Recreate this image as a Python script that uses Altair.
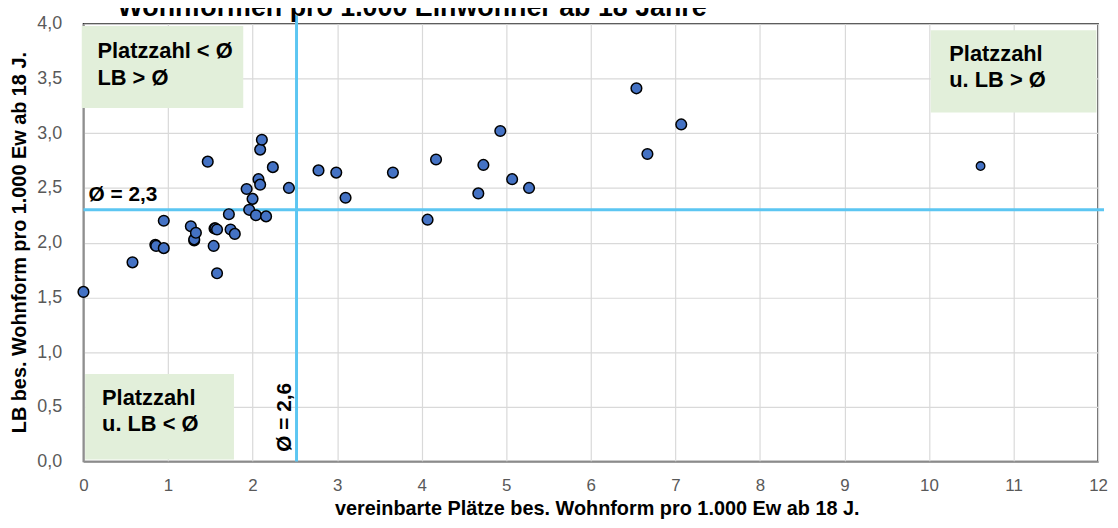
import altair as alt
import pandas as pd

# --- data ---
plaetze = [0.00, 0.58, 0.85, 0.86, 0.95, 0.95, 1.27, 1.31, 1.31, 1.33, 1.47, 1.54, 1.55, 1.56,
           1.58, 1.58, 1.72, 1.74, 1.79, 1.93, 2.00, 1.96, 2.04, 2.16, 2.07, 2.09,
           2.09, 2.11, 2.24, 2.43, 2.78, 2.99, 3.10, 3.66, 4.07, 4.17, 4.67, 4.73,
           4.93, 5.07, 5.27, 6.54, 6.67, 7.07]
lb = [1.55, 1.82, 1.98, 1.97, 1.95, 2.20, 2.15, 2.02, 2.03, 2.09, 2.74, 1.97, 2.13, 2.13,
      2.12, 1.72, 2.26, 2.12, 2.08, 2.49, 2.40, 2.30, 2.25, 2.24, 2.58, 2.53,
      2.85, 2.94, 2.69, 2.50, 2.66, 2.64, 2.41, 2.64, 2.21, 2.76, 2.45, 2.71,
      3.02, 2.58, 2.50, 3.41, 2.81, 3.08]
ausreisser_x = [10.61]
ausreisser_y = [2.70]

mittel_plaetze = 2.52   # drawn line position ("Ø = 2,6")
mittel_lb = 2.30        # "Ø = 2,3"

x_ticks = list(range(0, 13))
y_ticks = [0, 0.5, 1, 1.5, 2, 2.5, 3, 3.5, 4]

box_x = [-0.02, 10.02, 0.02]
box_x2 = [1.89, 11.98, 1.78]
box_y = [3.98, 3.94, 0.80]
box_y2 = [3.23, 3.19, 0.02]

label_text = ["Platzzahl < Ø", "LB > Ø", "Platzzahl", "u. LB > Ø", "Platzzahl", "u. LB < Ø"]
label_x = [0.165, 0.165, 10.24, 10.24, 0.22, 0.22]
label_y = [3.69, 3.44, 3.66, 3.42, 0.52, 0.28]

mittel_text = ["Ø = 2,3"]
mittel_text_x = [0.06]
mittel_text_y = [2.38]

titel = "Wohnformen pro 1.000 Einwohner ab 18 Jahre"
x_titel = "vereinbarte Plätze bes. Wohnform pro 1.000 Ew ab 18 J."
y_titel = "LB bes. Wohnform pro 1.000 Ew ab 18 J."

FONT = "Liberation Sans, Arial, sans-serif"
LINE = "#5CC6F2"

pts = pd.DataFrame({"x": plaetze, "y": lb})
out = pd.DataFrame({"x": ausreisser_x, "y": ausreisser_y})
boxes = pd.DataFrame({"x": box_x, "x2": box_x2, "y": box_y, "y2": box_y2})
labels = pd.DataFrame({"x": label_x, "y": label_y, "t": label_text})
mlab = pd.DataFrame({"x": mittel_text_x, "y": mittel_text_y, "t": mittel_text})
vline = pd.DataFrame({"x": [mittel_plaetze], "y": [0.0], "y2": [4.077]})
hline = pd.DataFrame({"y": [mittel_lb], "x": [0.0], "x2": [12.07]})
vlabel = pd.DataFrame({"x": [2.45], "y": [0.09], "t": ["Ø = 2,6"]})
tdf = pd.DataFrame({"t": [titel]})

xs = alt.Scale(domain=[0, 12], nice=False, zero=True)
ys = alt.Scale(domain=[0, 4], nice=False, zero=True)

xax = alt.Axis(values=x_ticks, format="d", title=x_titel, grid=True, ticks=False,
               labelPadding=16, labelFontSize=17, labelColor="#595959", labelFont=FONT,
               titleFont=FONT, titleFontSize=20, titleFontWeight="bold", titleColor="#000000",
               titleX=517, titleY=53, titleBaseline="alphabetic", titleAlign="center",
               domainColor="#8c8c8c", domainWidth=1.5, gridColor="#d9d9d9", gridWidth=1.2,
               labelFlush=False)
yax = alt.Axis(values=y_ticks, title=y_titel, grid=True, ticks=False,
               labelExpr="replace(format(datum.value, '.1f'), '.', ',')",
               labelPadding=22, labelFontSize=18, labelColor="#595959", labelFont=FONT,
               titleFont=FONT, titleFontSize=20, titleFontWeight="bold", titleColor="#000000",
               titleX=-64, titleY=220, titleBaseline="middle", titleAlign="center", titleAngle=270,
               domainColor="#8c8c8c", domainWidth=1.5, gridColor="#d9d9d9", gridWidth=1.2,
               labelFlush=False)

rects = alt.Chart(boxes).mark_rect(color="#E2EFDA").encode(
    x=alt.X("x:Q", scale=xs, axis=xax), x2="x2:Q",
    y=alt.Y("y:Q", scale=ys, axis=yax), y2="y2:Q")

vr = alt.Chart(vline).mark_rule(color=LINE, strokeWidth=3).encode(
    x=alt.X("x:Q", scale=xs), y=alt.Y("y:Q", scale=ys), y2="y2:Q")
hr = alt.Chart(hline).mark_rule(color=LINE, strokeWidth=3).encode(
    y=alt.Y("y:Q", scale=ys), x=alt.X("x:Q", scale=xs), x2="x2:Q")

points = alt.Chart(pts).mark_point(filled=True, fill="#4472C4", stroke="#000000",
                                   strokeWidth=1.5, size=115, opacity=1, shape="circle").encode(
    x=alt.X("x:Q", scale=xs), y=alt.Y("y:Q", scale=ys))
outp = alt.Chart(out).mark_point(filled=True, fill="#4472C4", stroke="#000000",
                                 strokeWidth=1.3, size=75, opacity=1, shape="circle").encode(
    x=alt.X("x:Q", scale=xs), y=alt.Y("y:Q", scale=ys))

txt = alt.Chart(labels).mark_text(align="left", baseline="alphabetic", font=FONT,
                                  fontSize=22, fontWeight="bold", color="#000000").encode(
    x=alt.X("x:Q", scale=xs), y=alt.Y("y:Q", scale=ys), text="t:N")
mtxt = alt.Chart(mlab).mark_text(align="left", baseline="alphabetic", font=FONT,
                                 fontSize=21, fontWeight="bold", color="#000000").encode(
    x=alt.X("x:Q", scale=xs), y=alt.Y("y:Q", scale=ys), text="t:N")
vtxt = alt.Chart(vlabel).mark_text(align="left", baseline="alphabetic", angle=270, font=FONT,
                                   fontSize=21, fontWeight="bold", color="#000000").encode(
    x=alt.X("x:Q", scale=xs), y=alt.Y("y:Q", scale=ys), text="t:N")
ttl = alt.Chart(tdf).mark_text(align="center", baseline="alphabetic", font=FONT,
                               fontSize=27, fontWeight="bold", color="#000000").encode(
    x=alt.value(331), y=alt.value(-8), text="t:N")

chart = alt.layer(rects, hr, vr, points, outp, txt, mtxt, vtxt, ttl).properties(
    width=1022, height=441,
    autosize=alt.AutoSizeParams(type="none"),
    padding={"left": 76, "top": 14, "right": 12, "bottom": 57},
    background="#ffffff",
).configure_view(stroke="#333333", strokeWidth=1.5)

chart.save("out.html", embed_options={"renderer": "svg", "actions": False})
